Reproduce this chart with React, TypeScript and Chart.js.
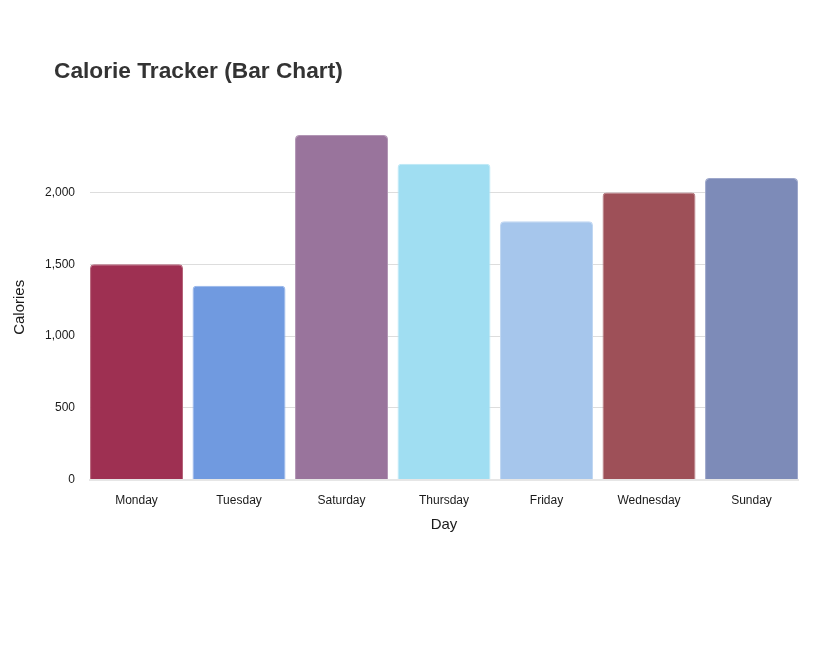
import React, { useEffect, useRef } from "react";
import { Chart, registerables } from "chart.js";

Chart.register(...registerables);

const TITLE = "Calorie Tracker (Bar Chart)";
const days = ["Monday", "Tuesday", "Saturday", "Thursday", "Friday", "Wednesday", "Sunday"];
const calories = [1500, 1350, 2400, 2200, 1800, 2000, 2100];
const barColors = ["#9E3052", "#709AE0", "#99749C", "#A0DEF2", "#A6C6EC", "#9E5058", "#7D8BB8"];
const borderColors = ["#B56379", "#94B4EA", "#B296B5", "#BCE8F6", "#C0D7F2", "#B67B82", "#9DA7CB"];
const yTickValues = [0, 500, 1000, 1500, 2000];
const Y_MAX = 2400;
const BAR_FRACTION = 0.907;

const AXIS_FONT = "'Liberation Sans', Helvetica, Arial, sans-serif";

export default function App() {
  const canvasRef = useRef<HTMLCanvasElement | null>(null);

  useEffect(() => {
    if (!canvasRef.current) return;
    const chart = new Chart(canvasRef.current, {
      type: "bar",
      data: {
        labels: days,
        datasets: [
          {
            label: "Calories",
            data: calories,
            backgroundColor: barColors,
            borderColor: borderColors,
            borderWidth: 1,
            borderRadius: 4,
            categoryPercentage: 1,
            barPercentage: BAR_FRACTION,
          },
        ],
      },
      options: {
        animation: false,
        responsive: true,
        maintainAspectRatio: false,
        layout: { padding: { left: 3, right: 11, top: 127, bottom: 96 } },
        plugins: {
          legend: { display: false },
          title: { display: false },
          tooltip: { enabled: false },
        },
        scales: {
          x: {
            afterUpdate: (scale: any) => {
              // first and last bars flush with the plot edges, as in the reference
              const n = days.length;
              scale._startValue = -BAR_FRACTION / 2;
              scale._valueRange = n - 1 + BAR_FRACTION;
            },
            grid: { display: false, drawTicks: false },
            border: { display: true, color: "#e6e6e6", width: 2 },
            ticks: { color: "#1a1a1a", font: { family: AXIS_FONT, size: 12 }, padding: 14 },
            title: {
              display: true,
              text: "Day",
              color: "#1a1a1a",
              font: { family: AXIS_FONT, size: 15 },
              padding: { top: -6, bottom: -2 },
            },
          },
          y: {
            min: 0,
            max: Y_MAX,
            afterBuildTicks: (scale: any) => {
              scale.ticks = yTickValues.map((v) => ({ value: v }));
            },
            grid: {
              drawTicks: false,
              color: (ctx: any) => (ctx.tick && ctx.tick.value === 0 ? "rgba(0,0,0,0)" : "#dddddd"),
              lineWidth: 1,
            },
            border: { display: false },
            ticks: {
              color: "#1a1a1a",
              font: { family: AXIS_FONT, size: 12 },
              padding: 15,
            },
            title: {
              display: true,
              text: "Calories",
              color: "#1a1a1a",
              font: { family: AXIS_FONT, size: 15 },
              padding: { top: 0, bottom: 1 },
            },
          },
        },
      },
    });
    return () => chart.destroy();
  }, []);

  return (
    <div style={{ position: "relative", width: 801, height: 620 }}>
      <canvas ref={canvasRef} />
      <div
        style={{
          position: "absolute",
          left: 46,
          top: 50.5,
          fontFamily: "'Liberation Sans', Helvetica, Arial, sans-serif",
          fontWeight: 700,
          fontSize: 22.7,
          lineHeight: 1,
          color: "#333333",
          whiteSpace: "nowrap",
        }}
      >
        {TITLE}
      </div>
    </div>
  );
}
